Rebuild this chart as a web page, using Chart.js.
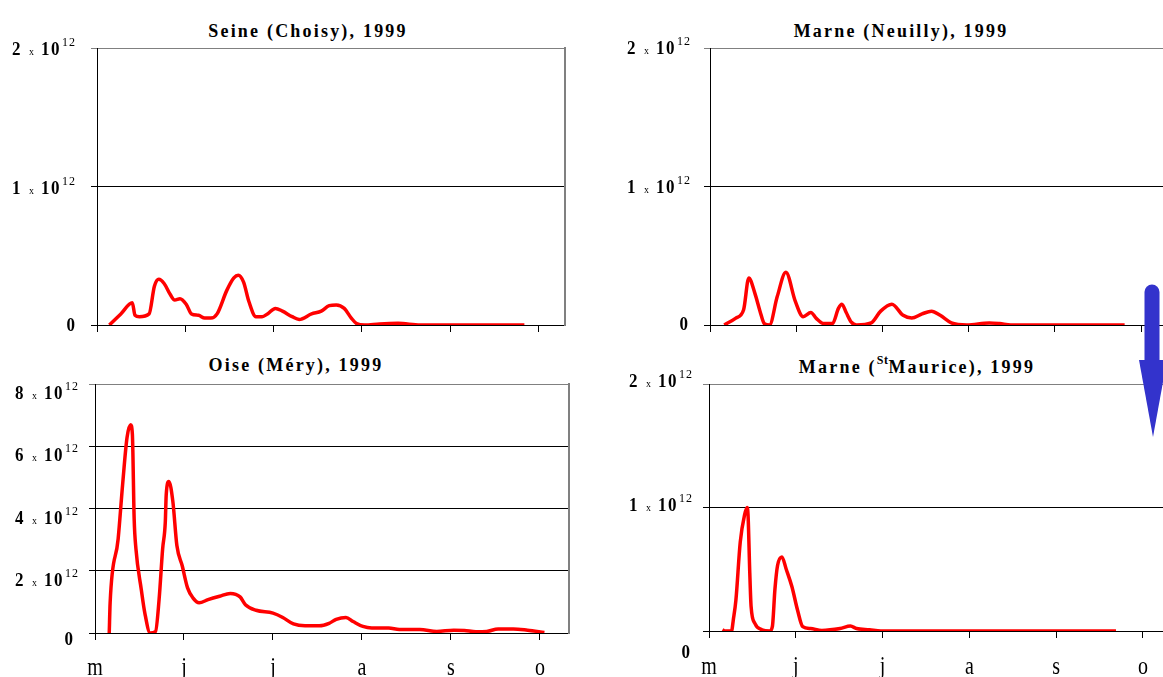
<!DOCTYPE html>
<html>
<head>
<meta charset="utf-8">
<script src="https://cdn.jsdelivr.net/npm/chart.js@4.4.1/dist/chart.umd.min.js"></script>
<style>
  body { margin: 0; width: 1163px; height: 677px; overflow: hidden; background: #fff; position: relative; font-family: "Liberation Serif", serif; }
  canvas { position: absolute; }
  .titre { position: absolute; font-weight: bold; font-size: 18px; letter-spacing: 2.2px; white-space: nowrap; line-height: 1; transform: translate(-50%, -50%) scaleY(1.1); }
  .titre sup { font-size: 12px; vertical-align: 0; position: relative; top: -8px; letter-spacing: 0.5px; }
  svg { position: absolute; left: 0; top: 0; }
</style>
</head>
<body>
<div class="titre" style="left:308px;top:30px">Seine (Choisy), 1999</div>
<div class="titre" style="left:901px;top:30px">Marne (Neuilly), 1999</div>
<div class="titre" style="left:296px;top:364px">Oise (Méry), 1999</div>
<div class="titre" style="left:917px;top:366px">Marne (<sup>St</sup>Maurice), 1999</div>

<canvas id="seine" width="580" height="340" style="left:0;top:0"></canvas>
<canvas id="neuilly" width="600" height="340" style="left:580px;top:0"></canvas>
<canvas id="oise" width="580" height="337" style="left:0;top:340px"></canvas>
<canvas id="stmaurice" width="600" height="337" style="left:580px;top:340px"></canvas>

<svg width="1163" height="677">
  <line x1="1152" y1="292" x2="1152" y2="366" stroke="#3333cc" stroke-width="15" stroke-linecap="round"/>
  <polygon points="1139,360 1167,360 1153,437" fill="#3333cc"/>
</svg>

<script>
// mois (x = mois écoulés depuis le 1er mai)
const mois = ['m', 'j', 'j', 'a', 's', 'o'];

// flux en unités de 10^12
const seineT = [0.14,0.27,0.40,0.43,0.48,0.59,0.65,0.70,0.76,0.83,0.88,0.94,1.01,1.07,1.15,1.22,1.29,1.36,1.47,1.55,1.60,1.66,1.72,1.80,1.87,1.93,2.02,2.10,2.21,2.29,2.43,2.54,2.63,2.71,2.80,2.88,2.94,3.03,3.20,3.41,3.66,4.20,4.84];
const seineV = [0,0.08,0.16,0.07,0.06,0.08,0.28,0.33,0.30,0.22,0.18,0.19,0.15,0.08,0.07,0.05,0.05,0.08,0.25,0.34,0.36,0.31,0.17,0.06,0.06,0.08,0.12,0.10,0.06,0.04,0.08,0.10,0.14,0.145,0.12,0.05,0.01,0,0.008,0.012,0,0,0];

const neuillyT = [0.165,0.30,0.39,0.45,0.52,0.58,0.63,0.69,0.78,0.88,0.99,1.08,1.17,1.23,1.32,1.42,1.49,1.53,1.58,1.64,1.70,1.87,1.98,2.11,2.24,2.34,2.46,2.57,2.67,2.80,2.98,3.24,3.36,3.49,4.2,4.81];
const neuillyV = [0,0.05,0.11,0.34,0.23,0.10,0.01,0,0.205,0.38,0.17,0.06,0.09,0.05,0.01,0.01,0.12,0.15,0.09,0.02,0,0.015,0.10,0.15,0.07,0.05,0.08,0.10,0.07,0.015,0,0.015,0.01,0,0,0];

const oiseT = [0.16,0.17,0.26,0.31,0.36,0.40,0.42,0.44,0.46,0.52,0.56,0.62,0.68,0.72,0.76,0.79,0.80,0.83,0.875,0.92,0.98,1.04,1.10,1.17,1.27,1.40,1.52,1.63,1.69,1.81,2.00,2.11,2.23,2.36,2.52,2.63,2.71,2.82,2.90,3.01,3.11,3.30,3.42,3.65,3.84,4.03,4.15,4.28,4.40,4.53,4.70,4.86,5.05];
const oiseV = [0,0.97,3.02,4.76,6.28,6.69,6.38,3.67,2.70,1.40,0.64,0,0.05,1.07,2.70,3.57,4.43,4.87,4.22,2.81,2.16,1.45,1.13,0.97,1.07,1.18,1.27,1.16,0.91,0.73,0.64,0.50,0.29,0.23,0.23,0.31,0.44,0.50,0.37,0.21,0.16,0.16,0.11,0.11,0.05,0.09,0.08,0.04,0.05,0.13,0.13,0.09,0.02];

const stMauriceT = [0.155,0.18,0.26,0.28,0.31,0.36,0.41,0.44,0.45,0.47,0.485,0.53,0.61,0.70,0.73,0.76,0.79,0.84,0.89,0.955,1.02,1.08,1.17,1.30,1.51,1.63,1.70,1.85,1.98,3.0,4.69];
const stMauriceV = [0.01,0,0,0.09,0.25,0.72,0.94,1.00,0.94,0.47,0.20,0.06,0.01,0,0.035,0.34,0.53,0.60,0.50,0.36,0.17,0.035,0.02,0.005,0.02,0.04,0.02,0.01,0,0,0];

const POLICE = '"Liberation Serif", serif';

function texte(ctx, s, x, y, k) {
  ctx.save();
  ctx.translate(x, y);
  ctx.scale(1, k);
  ctx.fillText(s, 0, 0);
  ctx.restore();
}

// étiquettes "2 x 10^12" et mois dessinées à la main
const etiquettes = {
  id: 'etiquettes',
  afterDraw(chart, args, o) {
    const ctx = chart.ctx, y = chart.scales.y, x = chart.scales.x, a = chart.chartArea;
    ctx.save();
    ctx.fillStyle = '#000';
    ctx.textBaseline = 'alphabetic';
    ctx.textAlign = 'left';
    y.ticks.forEach(t => {
      const py = y.getPixelForValue(t.value);
      if (t.value === 0) {
        ctx.font = 'bold 17px ' + POLICE;
        ctx.textAlign = 'right';
        texte(ctx, '0', a.left + o.zeroDx, py + o.zeroDy, 1.12);
        ctx.textAlign = 'left';
        return;
      }
      const px = a.left + o.labelDx;
      const base = py + o.labelDy;
      // morceau, police, décalage x, décalage y
      const morceaux = [
        [String(t.value), 'bold 17px ', 0, 0],
        ['x', '10px ', 17, 0],
        ['1', 'bold 17px ', 29, 0],
        ['0', 'bold 17px ', 39, 0],
        ['1', '12px ', 50, -9],
        ['2', '12px ', 57, -9]
      ];
      morceaux.forEach(([s, f, dx, dy]) => {
        ctx.font = f + POLICE;
        texte(ctx, s, px + dx, base + dy, 1.12);
      });
    });
    if (o.mois) {
      ctx.font = '20px ' + POLICE;
      ctx.textAlign = 'center';
      mois.forEach((m, i) => {
        texte(ctx, m, x.getPixelForValue(i), a.bottom + o.moisDy, 1.25);
      });
    }
    ctx.restore();
  }
};

function graphique(id, t, v, o) {
  return new Chart(document.getElementById(id), {
    type: 'line',
    data: {
      datasets: [{
        data: t.map((x, i) => ({ x: x, y: v[i] })),
        borderColor: '#ff0000',
        borderWidth: 3.5,
        pointRadius: 0,
        cubicInterpolationMode: 'monotone',
        fill: false
      }]
    },
    options: {
      responsive: false,
      animation: false,
      devicePixelRatio: 1,
      layout: { padding: { top: o.top, right: o.right, left: 0, bottom: 0 } },
      plugins: {
        legend: { display: false },
        tooltip: { enabled: false },
        etiquettes: o.lab
      },
      scales: {
        x: {
          type: 'linear',
          min: 0,
          max: o.xMax,
          afterBuildTicks: s => { s.ticks = mois.map((m, i) => ({ value: i })); },
          afterFit: s => { s.height = o.xH; },
          ticks: { display: false },
          grid: { drawOnChartArea: false, drawTicks: true, tickLength: 7, color: '#000' },
          border: { color: '#000', width: 1 }
        },
        y: {
          min: 0,
          max: o.yMax,
          afterFit: s => { s.width = o.yW; },
          ticks: { display: false, stepSize: o.yStep },
          grid: {
            color: c => (c.tick && c.tick.value === o.yMax ? '#808080' : '#000'),
            lineWidth: 1,
            tickLength: 6
          },
          border: { color: '#000', width: 1 }
        },
        y2: {
          position: 'right',
          afterFit: s => { s.width = 0; },
          ticks: { display: false },
          grid: { display: false },
          border: { color: '#808080', width: 2 }
        }
      }
    },
    plugins: [etiquettes]
  });
}

graphique('seine', seineT, seineV, {
  top: 48, right: 15, yW: 97, xH: 15, xMax: 5.30, yMax: 2, yStep: 1,
  lab: { labelDx: -85, labelDy: 7, zeroDx: -22, zeroDy: 6, mois: false }
});
graphique('neuilly', neuillyT, neuillyV, {
  top: 48, right: 5, yW: 130, xH: 15, xMax: 5.394, yMax: 2, yStep: 1,
  lab: { labelDx: -83, labelDy: 6, zeroDx: -22, zeroDy: 5, mois: false }
});
graphique('oise', oiseT, oiseV, {
  top: 44, right: 11, yW: 95, xH: 44, xMax: 5.326, yMax: 8, yStep: 2,
  lab: { labelDx: -80, labelDy: 15, zeroDx: -22, zeroDy: 12, mois: true, moisDy: 42 }
});
graphique('stmaurice', stMauriceT, stMauriceV, {
  top: 44, right: 5, yW: 129, xH: 46, xMax: 5.37, yMax: 2, yStep: 1,
  lab: { labelDx: -80, labelDy: 3, zeroDx: -19, zeroDy: 27, mois: true, moisDy: 43 }
});
</script>
</body>
</html>
